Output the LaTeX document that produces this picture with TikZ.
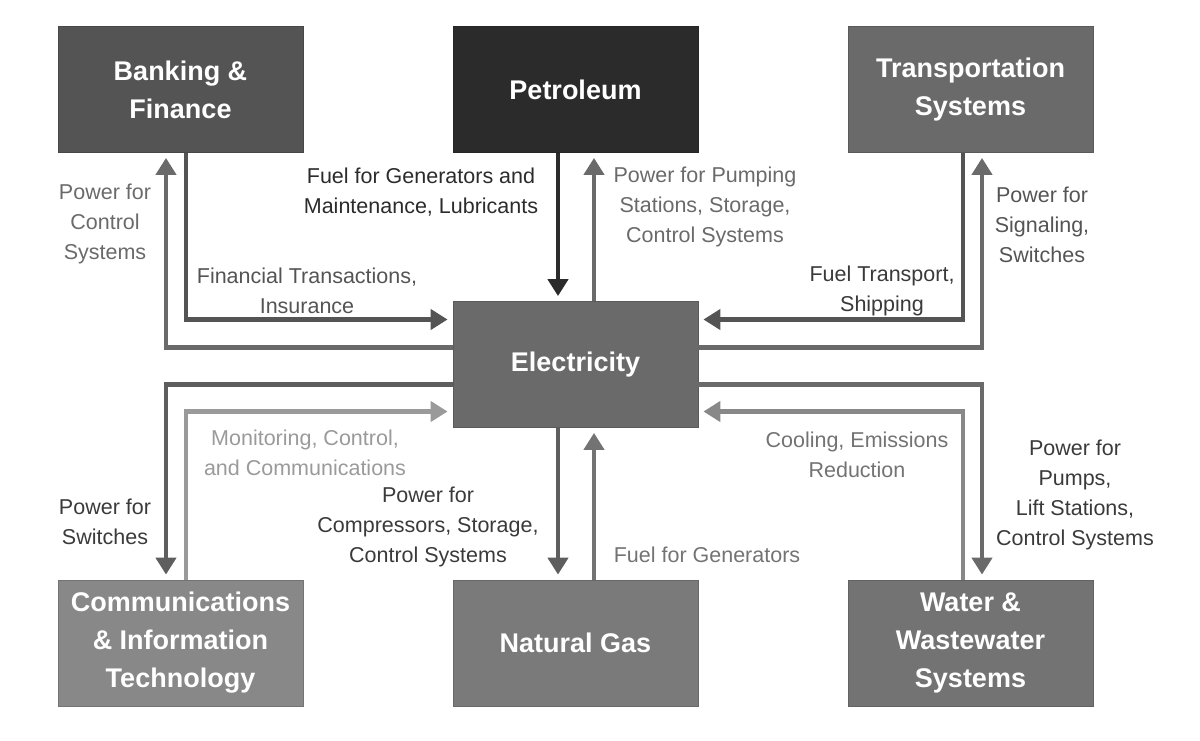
\documentclass[tikz,border=0pt]{standalone}
\usepackage{fontspec}
\setmainfont{Liberation Sans}
\definecolor{cigray1}{HTML}{2B2B2B}
\definecolor{cigray2}{HTML}{3A3A3A}
\definecolor{cigray3}{HTML}{545454}
\definecolor{cigray4}{HTML}{5E5E5E}
\definecolor{cigray5}{HTML}{6A6A6A}
\definecolor{cigray6}{HTML}{737373}
\definecolor{cigray7}{HTML}{888888}
\definecolor{cigray8}{HTML}{9A9A9A}
\usetikzlibrary{arrows.meta,positioning}

\begin{document}
\begin{tikzpicture}[x=1pt,y=-1pt,
  sector/.style={fill=#1,draw=#1!85!black,line width=0.8pt,minimum width=245pt,minimum height=126pt,
    inner sep=0pt,align=center,text=white,font=\fontsize{27}{38}\selectfont\bfseries},
  link/.style={-{Triangle[width=20pt,length=17pt]},line width=4.5pt,draw=#1,shorten >=5pt},
  linklabel/.style={align=center,text=#1,inner sep=0pt,font=\fontsize{21.5}{30}\selectfont}
]
  \useasboundingbox (0,0) rectangle (1200,740);
  % Sectors
  \node[sector=cigray5] (elec) at (575.5,364.5) {Electricity};
  \node[sector=cigray3] (bank) at (180.5,89.5) {Banking \&\\Finance};
  \node[sector=cigray1] (petro) at (575.5,89.5) {Petroleum};
  \node[sector=cigray5] (trans) at (970.5,89.5) {Transportation\\Systems};
  \node[sector=cigray7] (comm) at (180.5,643) {Communications\\\& Information\\Technology};
  \node[sector=cigray6!95!white] (gas) at (575.5,643) {Natural Gas};
  \node[sector=cigray6] (water) at (970.5,643) {Water \&\\Wastewater\\Systems};
  % Banking & Finance
  \draw[link=cigray5] ([yshift=17pt]elec.west) -| ([xshift=-14.5pt]bank.south);
  \draw[link=cigray3] ([xshift=5.5pt]bank.south) |- ([yshift=45pt]elec.west);
  \node[linklabel=cigray5] (bankpow) at (105,224) {Power for\\Control\\Systems};
  \node[linklabel=cigray3] (bankfin) at (307,291) {Financial Transactions,\\Insurance};
  % Petroleum
  \draw[link=cigray1] ([xshift=-17.5pt]petro.south) -- ([xshift=-17.5pt]elec.north);
  \draw[link=cigray5] ([xshift=18.5pt]elec.north) -- ([xshift=18.5pt]petro.south);
  \node[linklabel=cigray1] (petrofuel) at (421,192) {Fuel for Generators and\\Maintenance, Lubricants};
  \node[linklabel=cigray5] (petropow) at (705,207) {Power for Pumping\\Stations, Storage,\\Control Systems};
  % Transportation
  \draw[link=cigray3] ([xshift=-7.5pt]trans.south) |- ([yshift=45pt]elec.east);
  \draw[link=cigray5] ([yshift=17pt]elec.east) -| ([xshift=11.5pt]trans.south);
  \node[linklabel=cigray2] (transfuel) at (882,291) {Fuel Transport,\\Shipping};
  \node[linklabel=cigray3] (transpow) at (1042,225) {Power for\\Signaling,\\Switches};
  % Communications & IT
  \draw[link=cigray4] ([yshift=-20pt]elec.west) -| ([xshift=-14.5pt]comm.north);
  \draw[link=cigray8] ([xshift=5.5pt]comm.north) |- ([yshift=-47pt]elec.west);
  \node[linklabel=cigray8] (commmon) at (305,453) {Monitoring, Control,\\and Communications};
  \node[linklabel=cigray2] (commpow) at (105,522) {Power for\\Switches};
  % Natural Gas
  \draw[link=cigray4] ([xshift=-17.5pt]elec.south) -- ([xshift=-17.5pt]gas.north);
  \draw[link=cigray6] ([xshift=18.5pt]gas.north) -- ([xshift=18.5pt]elec.south);
  \node[linklabel=cigray2] (gaspow) at (428,527) {Power for\\Compressors, Storage,\\Control Systems};
  \node[linklabel=cigray6] (gasfuel) at (707,555) {Fuel for Generators};
  % Water & Wastewater
  \draw[link=cigray5] ([yshift=-20pt]elec.east) -| ([xshift=11.5pt]water.north);
  \draw[link=cigray7] ([xshift=-7.5pt]water.north) |- ([yshift=-47pt]elec.east);
  \node[linklabel=cigray6] (watercool) at (857,455) {Cooling, Emissions\\Reduction};
  \node[linklabel=cigray2] (waterpow) at (1075,495) {Power for\\Pumps,\\Lift Stations,\\Control Systems};
\end{tikzpicture}
\end{document}
